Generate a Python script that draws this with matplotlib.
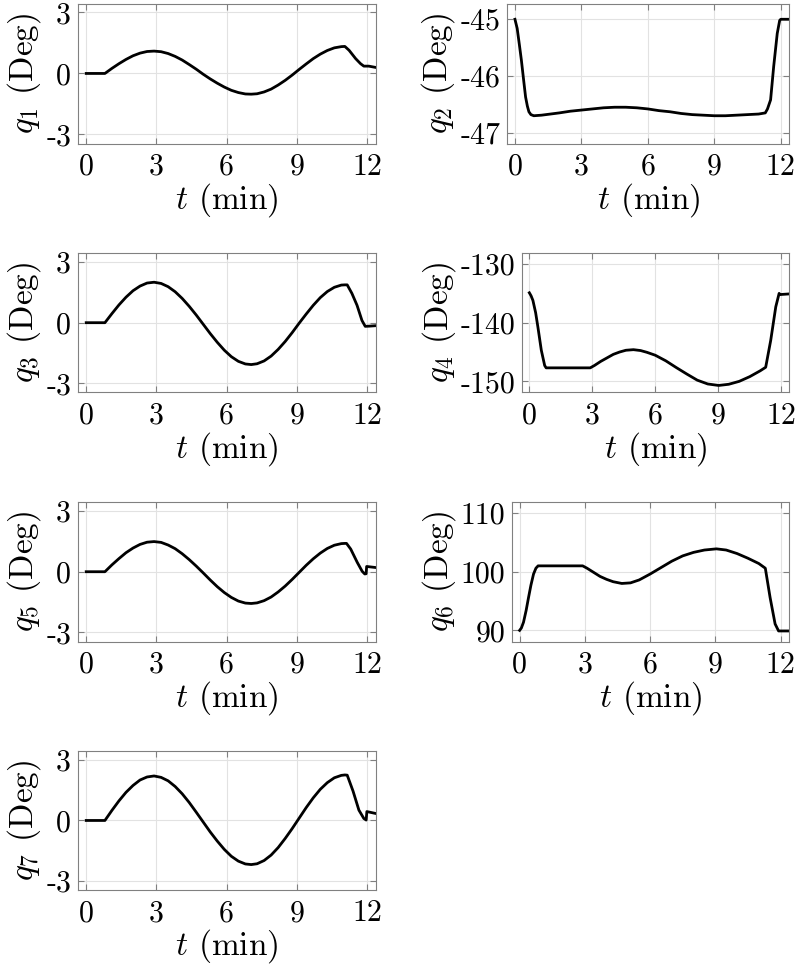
import matplotlib
matplotlib.use('Agg')
import matplotlib.pyplot as plt

plt.rcParams['font.family'] = 'cmr10'
plt.rcParams['mathtext.fontset'] = 'cm'
plt.rcParams['axes.unicode_minus'] = False

# joint angles (deg), time in minutes
t_sym = [0, 0.8, 1.1, 1.4, 1.7, 2.0, 2.3, 2.6, 2.9, 3.2, 3.5, 3.8, 4.1, 4.4, 4.7,
         5.0, 5.3, 5.6, 5.9, 6.2, 6.5, 6.8, 7.05, 7.3, 7.6, 7.9, 8.2, 8.5, 8.8,
         9.1, 9.4, 9.7, 10.0, 10.3, 10.6, 10.9, 11.05]

t1 = t_sym + [11.23, 11.51, 11.72, 11.86, 12.07, 12.35]
q1 = [0, 0, 0.25, 0.48, 0.69, 0.87, 1.00, 1.08, 1.10, 1.07, 0.98, 0.84, 0.66,
      0.44, 0.21, -0.04, -0.27, -0.48, -0.67, -0.83, -0.94, -1.01, -1.02, -1.00,
      -0.91, -0.77, -0.57, -0.34, -0.08, 0.20, 0.47, 0.73, 0.95, 1.13, 1.26,
      1.32, 1.33,
      1.14, 0.73, 0.48, 0.36, 0.36, 0.30]

t3 = t_sym + [11.15, 11.35, 11.57, 11.78, 11.92, 12.1, 12.35]
q3 = [0, 0, 0.45, 0.88, 1.26, 1.58, 1.81, 1.96, 2.00, 1.94, 1.78, 1.53, 1.20,
      0.81, 0.38, -0.08, -0.54, -0.97, -1.36, -1.68, -1.91, -2.04, -2.07, -2.03,
      -1.89, -1.65, -1.32, -0.93, -0.49, -0.02, 0.43, 0.86, 1.24, 1.54, 1.75,
      1.86, 1.87,
      1.87, 1.45, 0.86, 0.11, -0.18, -0.17, -0.15]

t5 = t_sym + [11.12, 11.3, 11.58, 11.79, 11.9, 11.96, 11.98, 12.35]
q5 = [0, 0, 0.34, 0.65, 0.94, 1.17, 1.35, 1.46, 1.49, 1.45, 1.32, 1.14, 0.89,
      0.60, 0.28, -0.06, -0.41, -0.74, -1.03, -1.27, -1.45, -1.55, -1.57, -1.54,
      -1.43, -1.25, -1.00, -0.71, -0.38, -0.03, 0.32, 0.64, 0.92, 1.15, 1.31,
      1.39, 1.40,
      1.40, 1.12, 0.46, 0.02, -0.11, -0.10, 0.26, 0.21]

t7 = t_sym + [11.15, 11.4, 11.65, 11.86, 11.96, 11.99, 12.35]
q7 = [0, 0, 0.50, 0.97, 1.39, 1.73, 2.00, 2.15, 2.20, 2.13, 1.96, 1.68, 1.32,
      0.89, 0.41, -0.08, -0.57, -1.02, -1.43, -1.77, -2.01, -2.15, -2.18, -2.14,
      -1.98, -1.71, -1.34, -0.89, -0.40, 0.12, 0.64, 1.12, 1.54, 1.87, 2.11,
      2.23, 2.25,
      2.24, 1.45, 0.51, 0.10, 0.02, 0.44, 0.35]

t2 = [0, 0.1, 0.2, 0.29, 0.4, 0.48, 0.56, 0.63, 0.72, 0.85, 1.2, 1.6, 2.0, 2.5,
      3.0, 3.5, 4.0, 4.5, 5.0, 5.5, 6.0, 6.5, 7.0, 7.5, 8.0, 8.5, 9.0, 9.5, 10.0,
      10.5, 11.0, 11.3, 11.4, 11.54, 11.68, 11.84, 11.95, 12.0, 12.35]
q2 = [-45.0, -45.16, -45.45, -45.72, -46.1, -46.37, -46.53, -46.63, -46.68,
      -46.70, -46.69, -46.67, -46.65, -46.62, -46.60, -46.58, -46.56, -46.55,
      -46.55, -46.56, -46.58, -46.61, -46.63, -46.66, -46.68, -46.69, -46.70,
      -46.70, -46.69, -46.68, -46.67, -46.65, -46.58, -46.42, -45.83, -45.25,
      -45.02, -45.0, -45.0]

t4 = [0, 0.08, 0.17, 0.3, 0.41, 0.57, 0.73, 0.8, 2.9, 3.1, 3.4, 3.7, 4.0, 4.3,
      4.6, 4.96, 5.3, 5.6, 6.0, 6.5, 7.0, 7.5, 8.0, 8.5, 9.02, 9.5, 10.0, 10.5,
      11.0, 11.26, 11.5, 11.74, 11.9, 11.95, 12.36]
q4 = [-134.9, -135.4, -136.2, -138.3, -140.8, -144.7, -147.3, -147.7, -147.7,
      -147.3, -146.6, -146.0, -145.4, -145.0, -144.7, -144.6, -144.75, -145.05,
      -145.55, -146.5, -147.65, -148.75, -149.8, -150.45, -150.7, -150.5,
      -150.0, -149.2, -148.2, -147.6, -143.0, -137.3, -135.0, -135.2, -135.1]

t6 = [0, 0.08, 0.18, 0.3, 0.41, 0.52, 0.64, 0.75, 0.85, 2.9, 3.1, 3.4, 3.7, 4.0,
      4.3, 4.7, 5.1, 5.5, 6.0, 6.5, 7.0, 7.5, 8.0, 8.5, 9.05, 9.5, 10.0, 10.5,
      11.0, 11.3, 11.52, 11.75, 11.91, 12.36]
q6 = [90.0, 90.4, 91.4, 93.4, 95.6, 97.7, 99.6, 100.6, 101.0, 101.0, 100.6,
      99.9, 99.2, 98.7, 98.3, 98.0, 98.1, 98.6, 99.6, 100.7, 101.8, 102.7,
      103.3, 103.7, 103.9, 103.7, 103.1, 102.3, 101.4, 100.6, 95.6, 91.1,
      89.9, 89.9]

x_ticks = [0, 3, 6, 9, 12]
y_ticks = {
    1: [-3, 0, 3], 2: [-47, -46, -45], 3: [-3, 0, 3], 4: [-150, -140, -130],
    5: [-3, 0, 3], 6: [90, 100, 110], 7: [-3, 0, 3],
}
y_lims = {
    1: (-3.45, 3.42), 2: (-47.19, -44.73), 3: (-3.45, 3.45), 4: (-151.9, -128.1),
    5: (-3.45, 3.45), 6: (88.1, 111.9), 7: (-3.45, 3.45),
}
series = {1: (t1, q1), 2: (t2, q2), 3: (t3, q3), 4: (t4, q4),
          5: (t5, q5), 6: (t6, q6), 7: (t7, q7)}

# axes boxes [left, bottom, width, height] in figure fractions
h = 0.1445
boxes = {
    1: [0.0975, 0.8514, 0.3725, h], 2: [0.634, 0.8514, 0.3525, h],
    3: [0.0975, 0.5937, 0.3725, h], 4: [0.6525, 0.5937, 0.334, h],
    5: [0.0975, 0.3359, 0.3725, h], 6: [0.64, 0.3359, 0.346, h],
    7: [0.0975, 0.0784, 0.3725, h],
}

fig = plt.figure(figsize=(8, 9.66), dpi=100)

for k in range(1, 8):
    ax = fig.add_axes(boxes[k])
    t, q = series[k]
    ax.plot(t, q, color='black', lw=2.0)
    ax.set_xlim(-0.35, 12.38)
    ax.set_ylim(*y_lims[k])
    ax.set_xticks(x_ticks)
    ax.set_yticks(y_ticks[k])
    ax.grid(True, color='#e2e2e2', lw=0.8)
    ax.set_axisbelow(True)
    for s in ax.spines.values():
        s.set_color('#808080')
        s.set_linewidth(0.8)
    ax.tick_params(direction='in', length=4, width=0.8, color='#808080',
                   top=True, right=True, labelsize=21.5)
    ax.tick_params(axis='x', pad=7)
    ax.tick_params(axis='y', pad=5)
    ax.set_xlabel(r'$t$ (min)', fontsize=24, labelpad=0)
    ax.set_ylabel(r'$q_%d$ (Deg)' % k, fontsize=24, labelpad=2)

fig.savefig('out.png', dpi=100)
